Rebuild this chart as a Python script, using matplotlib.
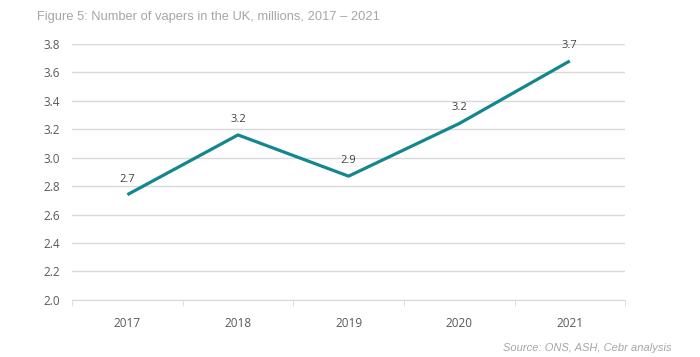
import matplotlib
matplotlib.use("Agg")
import matplotlib.pyplot as plt

years = ["2017", "2018", "2019", "2020", "2021"]
vapers = [2.74, 3.16, 2.87, 3.24, 3.68]
labels = ["2.7", "3.2", "2.9", "3.2", "3.7"]
yticks = [2.0, 2.2, 2.4, 2.6, 2.8, 3.0, 3.2, 3.4, 3.6, 3.8]

teal = "#14868f"
grid_col = "#d9d9d9"
txt_col = "#595959"

fig = plt.figure(figsize=(7, 3.57), dpi=100)
ax = fig.add_axes([0.103, 0.16, 0.79, 0.717])

x = list(range(len(years)))
ax.plot(x, vapers, color=teal, linewidth=2.3, solid_capstyle="butt", zorder=3)
for xi, v, lab in zip(x, vapers, labels):
    ax.text(xi, v + 0.11, lab, ha="center", va="center", fontsize=8,
            color="#404040", family="Open Sans")

ax.set_xlim(-0.5, 4.5)
ax.set_ylim(2.0, 3.8)
ax.set_yticks(yticks)
ax.set_yticklabels([f"{t:.1f}" for t in yticks], family="Open Sans", fontsize=8.5, color=txt_col)
ax.set_xticks(x)
ax.set_xticklabels(years, family="Open Sans", fontsize=8.5, color=txt_col)
ax.yaxis.grid(True, color=grid_col, linewidth=1)
ax.set_axisbelow(True)
ax.tick_params(axis="y", length=0, pad=9)
ax.tick_params(axis="x", length=0, pad=12)
# small tick marks at category boundaries
ax.set_xticks([-0.5, 0.5, 1.5, 2.5, 3.5, 4.5], minor=True)
ax.tick_params(axis="x", which="minor", length=4, color=grid_col, direction="out")
for s in ["top", "right", "left"]:
    ax.spines[s].set_visible(False)
ax.spines["bottom"].set_color(grid_col)

fig.text(0.053, 0.952, "Figure 5: Number of vapers in the UK, millions, 2017 \u2013 2021",
         fontsize=9.3, color="#a6a6a6", family="Liberation Sans", va="center")
fig.text(0.96, 0.025, "Source: ONS, ASH, Cebr analysis", fontsize=8, color="#a6a6a6",
         family="Liberation Sans", style="italic", ha="right", va="center")

fig.savefig("out.png", dpi=100, facecolor="white")
